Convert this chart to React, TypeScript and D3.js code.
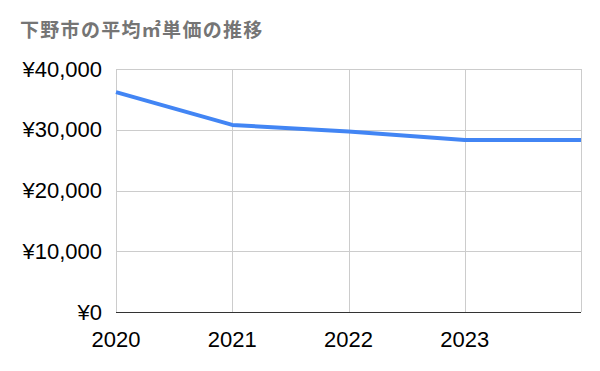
import { useEffect, useRef } from 'react';
import * as d3 from 'd3';

const title = '下野市の平均㎡単価の推移';
const years = [2020, 2021, 2022, 2023, 2024];
const prices = [36200, 30800, 29700, 28300, 28300];
const yTicks = [0, 10000, 20000, 30000, 40000];
const xTickYears = [2020, 2021, 2022, 2023];

export default function App() {
  const svgRef = useRef<SVGSVGElement>(null);

  useEffect(() => {
    if (!svgRef.current) return;
    const svg = d3.select(svgRef.current);
    svg.selectAll('*').remove();

    const width = 600;
    const height = 371;
    const margin = { top: 69, right: 19, bottom: 59, left: 116 };
    const font = '"Liberation Sans", Arial, sans-serif';

    svg.attr('width', width).attr('height', height);

    const x = d3.scaleLinear()
      .domain([years[0], years[years.length - 1]])
      .range([margin.left, width - margin.right]);
    const y = d3.scaleLinear()
      .domain([0, 40000])
      .range([height - margin.bottom, margin.top]);

    // Title
    svg.append('text')
      .attr('x', 20)
      .attr('y', 37)
      .style('font-family', '"Noto Sans CJK JP", sans-serif')
      .style('font-size', '19px')
      .style('font-weight', '700')
      .style('letter-spacing', '1.3px')
      .style('fill', '#757575')
      .text(title);

    // Grid
    const grid = svg.append('g');
    grid.selectAll('line.h')
      .data(yTicks.filter(t => t > 0))
      .enter()
      .append('line')
      .attr('x1', margin.left)
      .attr('x2', width - margin.right)
      .attr('y1', d => Math.round(y(d)) + 0.5)
      .attr('y2', d => Math.round(y(d)) + 0.5)
      .style('stroke', '#cccccc')
      .style('stroke-width', 1);

    grid.selectAll('line.v')
      .data(years)
      .enter()
      .append('line')
      .attr('x1', d => Math.round(x(d)) + 0.5)
      .attr('x2', d => Math.round(x(d)) + 0.5)
      .attr('y1', margin.top)
      .attr('y2', height - margin.bottom)
      .style('stroke', '#cccccc')
      .style('stroke-width', 1);

    // Baseline
    svg.append('line')
      .attr('x1', margin.left)
      .attr('x2', width - margin.right)
      .attr('y1', Math.round(y(0)) + 0.5)
      .attr('y2', Math.round(y(0)) + 0.5)
      .style('stroke', '#333333')
      .style('stroke-width', 1);

    // Y labels
    const fmt = d3.format(',');
    svg.append('g')
      .selectAll('text')
      .data(yTicks)
      .enter()
      .append('text')
      .attr('x', 102)
      .attr('y', d => y(d) + 7.5)
      .attr('text-anchor', 'end')
      .style('font-family', font)
      .style('font-size', '22px')
      .style('fill', '#000000')
      .text(d => `¥${fmt(d)}`);

    // X labels
    svg.append('g')
      .selectAll('text')
      .data(xTickYears)
      .enter()
      .append('text')
      .attr('x', d => x(d))
      .attr('y', 347)
      .attr('text-anchor', 'middle')
      .style('font-family', font)
      .style('font-size', '22px')
      .style('fill', '#000000')
      .text(d => String(d));

    // Line
    const line = d3.line<number>()
      .x((_, i) => x(years[i]))
      .y(d => y(d));

    svg.append('path')
      .datum(prices)
      .attr('d', line)
      .style('fill', 'none')
      .style('stroke', '#4285f4')
      .style('stroke-width', 4)
      .style('stroke-linejoin', 'round');
  }, []);

  return (
    <div style={{ position: 'fixed', top: 0, left: 0 }}>
      <svg ref={svgRef} style={{ display: 'block', background: '#ffffff' }} />
    </div>
  );
}
